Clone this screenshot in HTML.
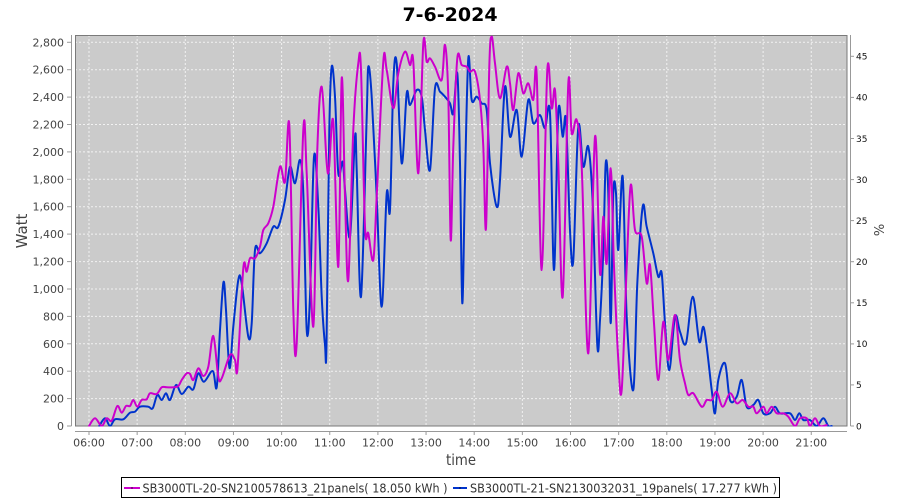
<!DOCTYPE html>
<html>
<head>
<meta charset="utf-8">
<style>
html,body{margin:0;padding:0;background:#fff;}
svg{display:block;}
text{font-family:"DejaVu Sans","Liberation Sans",sans-serif;}
</style>
</head>
<body>
<svg id="chart" width="900" height="500" viewBox="0 0 900 500" xmlns="http://www.w3.org/2000/svg">
<defs>
<clipPath id="plotclip"><rect x="75" y="35" width="772" height="391.5"/></clipPath>
</defs>
<rect x="0" y="0" width="900" height="500" fill="#ffffff"/>
<!-- title -->
<text x="450" y="21" text-anchor="middle" font-size="19" font-weight="bold" fill="#000">7-6-2024</text>

<!-- plot background -->
<rect x="75" y="35" width="772" height="391" fill="#cbcbcb"/>

<!-- grid -->
<g stroke="#f2f2f2" stroke-width="1" stroke-dasharray="2,2" fill="none">
<line x1="75" x2="847" y1="398.6" y2="398.6"/>
<line x1="75" x2="847" y1="371.2" y2="371.2"/>
<line x1="75" x2="847" y1="343.8" y2="343.8"/>
<line x1="75" x2="847" y1="316.4" y2="316.4"/>
<line x1="75" x2="847" y1="289.0" y2="289.0"/>
<line x1="75" x2="847" y1="261.6" y2="261.6"/>
<line x1="75" x2="847" y1="234.1" y2="234.1"/>
<line x1="75" x2="847" y1="206.7" y2="206.7"/>
<line x1="75" x2="847" y1="179.3" y2="179.3"/>
<line x1="75" x2="847" y1="151.9" y2="151.9"/>
<line x1="75" x2="847" y1="124.5" y2="124.5"/>
<line x1="75" x2="847" y1="97.1" y2="97.1"/>
<line x1="75" x2="847" y1="69.7" y2="69.7"/>
<line x1="75" x2="847" y1="42.3" y2="42.3"/>
<line y1="35" y2="426" x1="89" x2="89"/>
<line y1="35" y2="426" x1="137.15" x2="137.15"/>
<line y1="35" y2="426" x1="185.3" x2="185.3"/>
<line y1="35" y2="426" x1="233.45" x2="233.45"/>
<line y1="35" y2="426" x1="281.6" x2="281.6"/>
<line y1="35" y2="426" x1="329.75" x2="329.75"/>
<line y1="35" y2="426" x1="377.9" x2="377.9"/>
<line y1="35" y2="426" x1="426.05" x2="426.05"/>
<line y1="35" y2="426" x1="474.2" x2="474.2"/>
<line y1="35" y2="426" x1="522.35" x2="522.35"/>
<line y1="35" y2="426" x1="570.5" x2="570.5"/>
<line y1="35" y2="426" x1="618.65" x2="618.65"/>
<line y1="35" y2="426" x1="666.8" x2="666.8"/>
<line y1="35" y2="426" x1="714.95" x2="714.95"/>
<line y1="35" y2="426" x1="763.1" x2="763.1"/>
<line y1="35" y2="426" x1="811.25" x2="811.25"/>
</g>

<!-- plot border -->
<rect x="75.5" y="35.5" width="771.5" height="390.5" fill="none" stroke="#7a7a7a" stroke-width="1"/>

<g clip-path="url(#plotclip)">
<!-- series: blue -->
<polyline class="s" fill="none" stroke="#0033cc" stroke-width="2" stroke-linejoin="round" stroke-linecap="round" points="
99.3,426 105,418.3 110,426 115,419.3 123.3,419.3 130,412.7 135,411.7 140,406.7 148.3,406.7 152.7,408.3 157.3,395 161.7,400 166,393.3 170,400 176,385 181.7,394 188.3,386.7 193.3,389.3 198.3,373.3 204,381.7 212.7,371 216.7,387.3 220,330 223.5,282 226,310 229.5,368 233.3,326.7 238.3,280 241.7,283.3 248.3,336.7 251.7,323.3 255,250 260,253.3 266.7,243.3 273.3,226.7 278.3,226.7 285,200 290,166.7 295,183.3 300,160 303.3,193.3 306.7,330 310,296.7 314,156.7 318.3,206.7 321.7,296.7 325,345 326.5,345 329.3,130 331.7,66.7 335,96.7 338.3,173.3 342.7,161.7 345,190 350,236.7 355,136.7 356.7,170 361,296.7 366.7,116.7 368.3,66.7 371.7,96.7 376.7,196.7 381.7,306.7 386.7,193.3 390,210 393.3,83.3 396.7,63.3 401.7,163.3 406.7,93.3 410,105 416.7,90 421.7,96.7 425,130 430,170 435,88.3 440,91.7 445,96.7 450,103.3 453.3,113.3 457.3,73.3 460,163.3 462.3,303.3 465,180 468.3,58.3 471.7,100 476.7,96.7 481.7,103.3 486.7,110 490,163.3 496.7,206.7 500,180 505,86.7 510,136.7 516.7,110 521.7,156.7 528.3,100 533.3,123.3 540,115 545,128.3 550,113.3 554,270 558.3,111.7 562.7,136.7 566,120 570,230 573.3,260 578.3,126.7 583.3,166.7 588.3,146.7 592.7,203.3 597.3,345 600,320 603.3,250 605.7,163.3 608.3,193.3 610.7,323.3 613.3,193.3 616,193.3 618.3,250 622.7,176.7 626.7,316.7 633.3,390 637.3,283.3 642.7,206.7 646.7,226.7 653.3,253.3 658.3,276.7 661.7,273.3 665,323.3 669.3,370 675,316.7 680,331.7 686,343.3 692.7,296.7 699.3,341.7 704,328.3 711.7,390 715,413.3 718.3,380 725,363.3 730,400 736.7,396.7 741.7,380 746.7,406.7 753.3,405 758.3,400 763.3,413.3 770,413.3 775,406.7 780,413.3 790,413.3 795,420 799.3,413.3 803.3,420 810,420 816.7,426 823.3,418.3 828.3,426 831.7,426"/>

<!-- series: magenta -->
<polyline class="s" fill="none" stroke="#cc00cc" stroke-width="2" stroke-linejoin="round" stroke-linecap="round" points="
89,426 95,418.3 101.7,426 106.7,418.3 111.7,420.7 117.3,406 121.7,412.7 126,406 130,406 133.3,400 137.3,406.7 141.7,400 146.7,399.3 150,393.3 156.7,394 161.7,387.3 166.7,387.3 173.3,387.3 178.3,386 181.7,380 186.7,373.3 190,374 193.3,380 198.3,368.3 203.3,376 208.3,366.7 213.3,336 218.3,376.7 221.7,378.3 230,355 235,360 237.5,368 243.3,268.3 246.7,271.7 250,258.3 255,258.3 260,246.7 263.3,230 268.3,223.3 273.3,206.7 280,166.7 285,181.7 289.3,125 293.3,310 296.7,343.3 303.3,130 306.7,173.3 313.3,326.7 317.3,150 321.7,86.7 326.7,163.3 329,168.3 333.3,121.7 338.3,266.7 341.7,78.3 345,196.7 348.3,280 353.3,130 358.3,63.3 361,70 365,226.7 368.3,233.3 373.3,260 376.7,196.7 383.3,61.7 386.7,70 393.3,108.3 398.3,73.3 405,51.7 410,65 413.3,61.7 418.3,173.3 423.3,43.3 426.7,61.7 430,58.3 435,66.7 441.7,80 445,45 448.3,96.7 450.7,240 453.3,146.7 457.3,58.3 461.7,65 466.7,66.7 470,71.7 475,71.7 480,100 483.3,146.7 486,228.3 489.3,66.7 491.7,36.7 495,63.3 500,98.3 506.7,66.7 510,83.3 513.3,110 518.3,73.3 523.3,93.3 528.3,83.3 533.3,100 536.7,75 541.7,270 547.3,70 551.7,108.3 555,90 558.3,163.3 562.7,296.7 568.3,83.3 571.7,133.3 576.7,120 581.7,166.7 588.3,353.3 595,136.7 600,273.3 603.3,216.7 606.7,263.3 610.7,168.3 614,266.7 618.3,360 621.7,390 626.7,266.7 630.7,185 635,230 641.7,236.7 646.7,283.3 650,265 654,323.3 658.3,380 663.3,321.7 668.3,360 675,315 680,360 685,383.3 688.3,395 693.3,393.3 701.7,406.7 706.7,400 711.7,400 716.7,391.7 722.7,406.7 730,393.3 736.7,403.3 742.7,400 748.3,406.7 753.3,406.7 756.7,413.3 763.3,406.7 766.7,413.3 771.7,406.7 776.7,413.3 783.3,413.3 788.3,416.7 795,426 800,418.3 806.7,418.3 810,426 815,418.3 820,426 826.7,425"/>
</g>

<!-- left axis -->
<g stroke="#999" stroke-width="1">
<line x1="71.5" y1="35" x2="71.5" y2="426"/>
<line x1="67" x2="71.5" y1="426" y2="426"/>
<line x1="67" x2="71.5" y1="398.6" y2="398.6"/>
<line x1="67" x2="71.5" y1="371.2" y2="371.2"/>
<line x1="67" x2="71.5" y1="343.8" y2="343.8"/>
<line x1="67" x2="71.5" y1="316.4" y2="316.4"/>
<line x1="67" x2="71.5" y1="289.0" y2="289.0"/>
<line x1="67" x2="71.5" y1="261.6" y2="261.6"/>
<line x1="67" x2="71.5" y1="234.1" y2="234.1"/>
<line x1="67" x2="71.5" y1="206.7" y2="206.7"/>
<line x1="67" x2="71.5" y1="179.3" y2="179.3"/>
<line x1="67" x2="71.5" y1="151.9" y2="151.9"/>
<line x1="67" x2="71.5" y1="124.5" y2="124.5"/>
<line x1="67" x2="71.5" y1="97.1" y2="97.1"/>
<line x1="67" x2="71.5" y1="69.7" y2="69.7"/>
<line x1="67" x2="71.5" y1="42.3" y2="42.3"/>
</g>
<g font-size="11" fill="#444" text-anchor="end">
<text x="64" y="430">0</text>
<text x="64" y="402.6">200</text>
<text x="64" y="375.2">400</text>
<text x="64" y="347.8">600</text>
<text x="64" y="320.4">800</text>
<text x="64" y="293">1,000</text>
<text x="64" y="265.6">1,200</text>
<text x="64" y="238.1">1,400</text>
<text x="64" y="210.7">1,600</text>
<text x="64" y="183.3">1,800</text>
<text x="64" y="155.9">2,000</text>
<text x="64" y="128.5">2,200</text>
<text x="64" y="101.1">2,400</text>
<text x="64" y="73.7">2,600</text>
<text x="64" y="46.3">2,800</text>
</g>
<text transform="translate(27,231) rotate(-90)" text-anchor="middle" font-size="15" fill="#444">Watt</text>

<!-- right axis -->
<g stroke="#999" stroke-width="1">
<line x1="850.5" y1="35" x2="850.5" y2="426"/>
<line x1="850.5" x2="854" y1="426" y2="426"/>
<line x1="850.5" x2="854" y1="384.9" y2="384.9"/>
<line x1="850.5" x2="854" y1="343.9" y2="343.9"/>
<line x1="850.5" x2="854" y1="302.8" y2="302.8"/>
<line x1="850.5" x2="854" y1="261.7" y2="261.7"/>
<line x1="850.5" x2="854" y1="220.6" y2="220.6"/>
<line x1="850.5" x2="854" y1="179.6" y2="179.6"/>
<line x1="850.5" x2="854" y1="138.5" y2="138.5"/>
<line x1="850.5" x2="854" y1="97.4" y2="97.4"/>
<line x1="850.5" x2="854" y1="56.3" y2="56.3"/>
</g>
<g font-size="9" fill="#111" text-anchor="start">
<text x="856" y="429.3">0</text>
<text x="856" y="388.2">5</text>
<text x="856" y="347.2">10</text>
<text x="856" y="306.1">15</text>
<text x="856" y="265">20</text>
<text x="856" y="223.9">25</text>
<text x="856" y="182.9">30</text>
<text x="856" y="141.8">35</text>
<text x="856" y="100.7">40</text>
<text x="856" y="59.6">45</text>
</g>
<text transform="translate(884,230) rotate(-90)" text-anchor="middle" font-size="13" fill="#444">%</text>

<!-- x axis -->
<g stroke="#999" stroke-width="1">
<line x1="75" y1="431.5" x2="847" y2="431.5"/>
<line y1="431.5" y2="435" x1="89" x2="89"/>
<line y1="431.5" y2="435" x1="137.15" x2="137.15"/>
<line y1="431.5" y2="435" x1="185.3" x2="185.3"/>
<line y1="431.5" y2="435" x1="233.45" x2="233.45"/>
<line y1="431.5" y2="435" x1="281.6" x2="281.6"/>
<line y1="431.5" y2="435" x1="329.75" x2="329.75"/>
<line y1="431.5" y2="435" x1="377.9" x2="377.9"/>
<line y1="431.5" y2="435" x1="426.05" x2="426.05"/>
<line y1="431.5" y2="435" x1="474.2" x2="474.2"/>
<line y1="431.5" y2="435" x1="522.35" x2="522.35"/>
<line y1="431.5" y2="435" x1="570.5" x2="570.5"/>
<line y1="431.5" y2="435" x1="618.65" x2="618.65"/>
<line y1="431.5" y2="435" x1="666.8" x2="666.8"/>
<line y1="431.5" y2="435" x1="714.95" x2="714.95"/>
<line y1="431.5" y2="435" x1="763.1" x2="763.1"/>
<line y1="431.5" y2="435" x1="811.25" x2="811.25"/>
</g>
<g font-size="11" fill="#444" text-anchor="middle">
<text x="89" y="446.5">06:00</text>
<text x="137.15" y="446.5">07:00</text>
<text x="185.3" y="446.5">08:00</text>
<text x="233.45" y="446.5">09:00</text>
<text x="281.6" y="446.5">10:00</text>
<text x="329.75" y="446.5">11:00</text>
<text x="377.9" y="446.5">12:00</text>
<text x="426.05" y="446.5">13:00</text>
<text x="474.2" y="446.5">14:00</text>
<text x="522.35" y="446.5">15:00</text>
<text x="570.5" y="446.5">16:00</text>
<text x="618.65" y="446.5">17:00</text>
<text x="666.8" y="446.5">18:00</text>
<text x="714.95" y="446.5">19:00</text>
<text x="763.1" y="446.5">20:00</text>
<text x="811.25" y="446.5">21:00</text>
</g>
<text x="461" y="465" text-anchor="middle" font-size="15" fill="#444" textLength="30" lengthAdjust="spacingAndGlyphs">time</text>

<!-- legend -->
<rect x="121.5" y="477.5" width="658" height="20" fill="#fff" stroke="#000" stroke-width="1"/>
<line x1="124" y1="488" x2="140" y2="488" stroke="#cc00cc" stroke-width="2"/>
<rect x="131" y="487" width="2" height="2" fill="#880088"/>
<text x="142.5" y="492.5" font-size="12.5" fill="#333" textLength="305" lengthAdjust="spacingAndGlyphs">SB3000TL-20-SN2100578613_21panels( 18.050 kWh )</text>
<line x1="453" y1="488" x2="467" y2="488" stroke="#0033cc" stroke-width="2"/>
<rect x="459" y="487" width="2" height="2" fill="#002288"/>
<text x="470" y="492.5" font-size="12.5" fill="#333" textLength="307" lengthAdjust="spacingAndGlyphs">SB3000TL-21-SN2130032031_19panels( 17.277 kWh )</text>
</svg>
<script>
(function(){
  try{
    var NS="http://www.w3.org/2000/svg";
    var pls=document.querySelectorAll("polyline.s");
    for(var k=0;k<pls.length;k++){
      var pl=pls[k];
      var raw=pl.getAttribute("points").trim().split(/\s+/);
      var p=[];
      for(var i=0;i<raw.length;i++){var xy=raw[i].split(",");if(xy.length===2)p.push([parseFloat(xy[0]),parseFloat(xy[1])]);}
      if(p.length<3)continue;
      var d="M"+p[0][0]+","+p[0][1];
      for(var i=0;i<p.length-1;i++){
        var p0=p[i>0?i-1:i],p1=p[i],p2=p[i+1],p3=p[i+2<p.length?i+2:i+1];
        var c1x=p1[0]+(p2[0]-p0[0])/6,c1y=p1[1]+(p2[1]-p0[1])/6;
        var c2x=p2[0]-(p3[0]-p1[0])/6,c2y=p2[1]-(p3[1]-p1[1])/6;
        d+=" C"+c1x.toFixed(2)+","+c1y.toFixed(2)+" "+c2x.toFixed(2)+","+c2y.toFixed(2)+" "+p2[0]+","+p2[1];
      }
      var path=document.createElementNS(NS,"path");
      path.setAttribute("d",d);
      path.setAttribute("fill","none");
      path.setAttribute("stroke",pl.getAttribute("stroke"));
      path.setAttribute("stroke-width","2");
      path.setAttribute("stroke-linejoin","round");
      path.setAttribute("stroke-linecap","round");
      pl.parentNode.replaceChild(path,pl);
    }
  }catch(e){}
})();
</script>
</body>
</html>
